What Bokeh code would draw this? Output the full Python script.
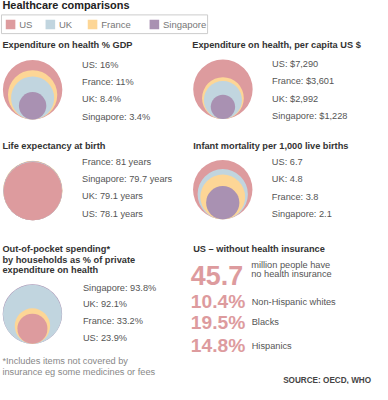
import math
from bokeh.plotting import figure
from bokeh.models import Range1d
from bokeh.core.properties import value
from bokeh.embed import file_html
from bokeh.resources import INLINE

# ---------------- data ----------------
countries = ["US", "UK", "France", "Singapore"]
country_colors = ["#dd9b9e", "#c1d5df", "#fdd696", "#a991b2"]

gdp_share = [16, 8.4, 11, 3.4]              # % of GDP
per_capita = [7290, 2992, 3601, 1228]       # US $
life_expectancy = [78.1, 79.1, 81, 79.7]    # years
infant_mortality = [6.7, 4.8, 3.8, 2.1]     # per 1,000 live births
out_of_pocket = [23.9, 92.1, 33.2, 93.8]    # % of private expenditure

uninsured_millions = 45.7
uninsured_groups = ["Non-Hispanic whites", "Blacks", "Hispanics"]
uninsured_pct = [10.4, 19.5, 14.8]

# ---------------- figure ----------------
W, H = 388, 400
p = figure(width=372, height=384, x_range=Range1d(0, W), y_range=Range1d(H, 0),
           output_backend="svg", toolbar_location=None, min_border=0)
p.axis.visible = False
p.grid.visible = False
p.outline_line_color = None
p.background_fill_color = "white"
p.border_fill_color = "white"

FONT = value("Liberation Sans")
S = 0.96


def fs(px):
    return value(f"{px * S:.2f}px")


def txt(xs, ys, texts, size=9.7, color="#555555", bold=False, align="left",
        baseline="middle"):
    p.text(x=xs, y=ys, text=texts, text_font=FONT, text_font_size=fs(size),
           text_font_style="bold" if bold else "normal", text_color=color,
           text_align=align, text_baseline=baseline)


# title
txt([2], [5], ["Healthcare comparisons"], size=11.4, color="#222222", bold=True)

# legend box
p.quad(left=[1], right=[216], top=[15], bottom=[34.5], fill_color="white",
       line_color="#cccccc", line_width=1)
leg_sw_x = [5.5, 47, 91, 155.5]
p.quad(left=leg_sw_x, right=[x + 10 for x in leg_sw_x], top=[20] * 4, bottom=[30] * 4,
       fill_color=country_colors, line_color=None)
txt([x + 14 for x in leg_sw_x], [25.3] * 4, countries, size=9.9, color="#777777")

R = 31.0


def ring_panel(title_lines, tx, ty, values, fmt, cx, bottom, lx, ly0, dy):
    for k, line in enumerate(title_lines):
        txt([tx], [ty + k * 10.9], [line], size=9.6, color="#333333", bold=True)
    order = sorted(range(len(values)), key=lambda i: -values[i])
    vmax = max(values)
    radii = [R * math.sqrt(values[i] / vmax) for i in order]
    ys = [bottom - r for r in radii]
    p.circle(x=[cx] * len(order), y=ys, radius=radii,
             fill_color=[country_colors[i] for i in order], line_color=None)
    labels = [f"{countries[i]}: {fmt(values[i])}" for i in order]
    txt([lx] * len(order), [ly0 + k * dy for k in range(len(order))], labels,
        size=9.6, color="#555555")


ring_panel(["Expenditure on health % GDP"], 2, 46.5, gdp_share,
           lambda v: f"{v:g}%", 33.5, 124, 85, 66.7, 18.1)
ring_panel(["Expenditure on health, per capita US $"], 200, 46.5, per_capita,
           lambda v: f"${v:,}", 232, 123.5, 283.3, 66.2, 18.0)
ring_panel(["Life expectancy at birth"], 2, 151.2, life_expectancy,
           lambda v: f"{v:g} years", 33.7, 229, 85, 168.5, 17.8)
ring_panel(["Infant mortality per 1,000 live births"], 201, 152, infant_mortality,
           lambda v: f"{v:g}", 231.8, 228, 283, 168.5, 17.9)
ring_panel(["Out-of-pocket spending*", "by households as % of private",
            "expenditure on health"], 2, 259.3, out_of_pocket,
           lambda v: f"{v:g}%", 33.3, 357.5, 86, 299, 17.6)

# footnote
txt([2, 2], [375.7, 386.7], ["*Includes items not covered by",
                             "insurance eg some medicines or fees"],
    size=9.6, color="#888888")

# US without insurance panel
txt([201], [259.3], ["US \u2013 without health insurance"], size=9.6,
    color="#333333", bold=True)
num_color = "#dd9b9e"
txt([198.5], [286.7], [f"{uninsured_millions:g}"], size=28, color=num_color,
    bold=True, baseline="alphabetic")
txt([261.5, 261.5], [275.7, 285.2], ["million people have", "no health insurance"],
    size=9.6, color="#555555")
row_base = [313.3, 335.0, 359.3]
txt([198.5] * 3, row_base, [f"{v:g}%" for v in uninsured_pct], size=20,
    color=num_color, bold=True, baseline="alphabetic")
txt([262] * 3, [b + 0.3 for b in row_base], uninsured_groups, size=9.6,
    color="#555555", baseline="alphabetic")

# source
txt([386.5], [396], ["SOURCE: OECD, WHO"], size=8.5, color="#444444",
    bold=True, align="right")

open("out.html", "w").write(file_html(p, INLINE))
